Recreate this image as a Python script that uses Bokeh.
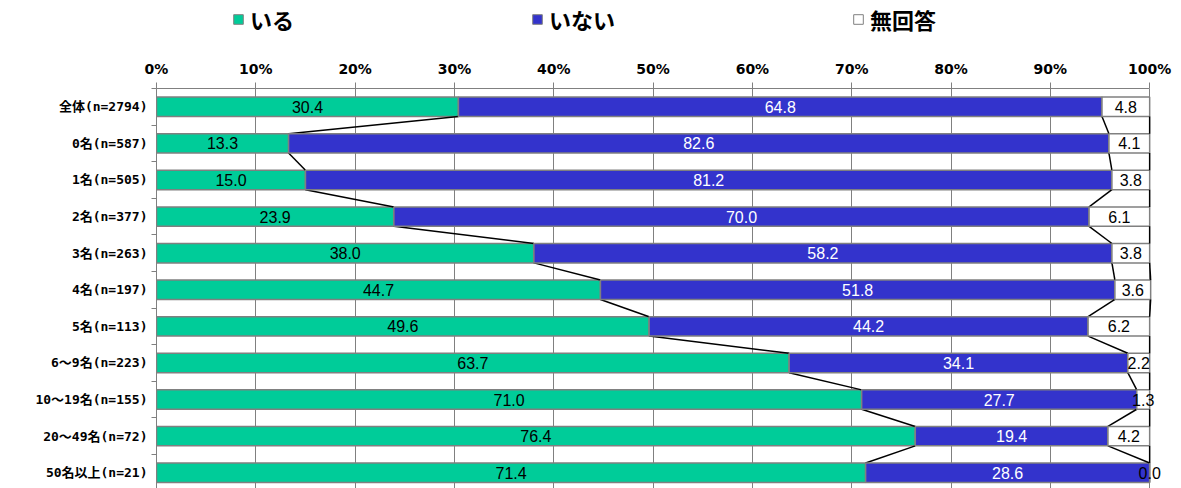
from bokeh.plotting import figure
from bokeh.layouts import column
from bokeh.models import (Range1d, FixedTicker, Legend, LegendItem, ColumnDataSource)
from bokeh.core.properties import value
from bokeh.embed import file_html
from bokeh.resources import INLINE

categories = ["全体(n=2794)", "0名(n=587)", "1名(n=505)", "2名(n=377)",
              "3名(n=263)", "4名(n=197)", "5名(n=113)", "6～9名(n=223)",
              "10～19名(n=155)", "20～49名(n=72)", "50名以上(n=21)"]
iru = [30.4, 13.3, 15.0, 23.9, 38.0, 44.7, 49.6, 63.7, 71.0, 76.4, 71.4]
inai = [64.8, 82.6, 81.2, 70.0, 58.2, 51.8, 44.2, 34.1, 27.7, 19.4, 28.6]
mukaito = [4.8, 4.1, 3.8, 6.1, 3.8, 3.6, 6.2, 2.2, 1.3, 4.2, 0.0]
series_names = ["いる", "いない", "無回答"]
x_ticks = [0, 10, 20, 30, 40, 50, 60, 70, 80, 90, 100]

colors = ["#00CC99", "#3333CC", "#FFFFFF"]
text_colors = ["#000000", "#FFFFFF", "#000000"]
GRAY = "#808080"
BAR_H = 0.53
W = 1173

n = len(categories)
ys = list(range(n))

# ---------- legend strip ----------
lf = figure(width=W, height=44, output_backend="svg", toolbar_location=None,
            x_range=Range1d(0, 1), y_range=Range1d(0, 1), min_border=0)
lf.axis.visible = False
lf.grid.visible = False
lf.outline_line_color = None
dummy = []
for k in range(3):
    # a single off-screen bar, only used for the legend swatch
    dummy.append(lf.hbar(y=[10], left=[10], right=[11], height=0.5,
                         fill_color=colors[k], line_color=GRAY, line_width=1))
lg = Legend(items=[LegendItem(label=series_names[k], renderers=[dummy[k]]) for k in range(3)],
            location=(76, 9), orientation="horizontal", spacing=237,
            glyph_width=12, glyph_height=12, label_standoff=6,
            padding=0, margin=0, border_line_color=None, background_fill_alpha=0,
            label_text_font="Noto Sans CJK JP", label_text_font_style="bold",
            label_text_font_size="22px", label_text_color="black")
lf.add_layout(lg, "center")

# ---------- main chart ----------
p = figure(width=W, height=444, output_backend="svg", toolbar_location=None,
           x_axis_location="above",
           x_range=Range1d(0, 102.4), y_range=Range1d(10.43, -0.5),
           min_border_left=156, min_border_right=0, min_border_top=44,
           min_border_bottom=0)
p.outline_line_color = None

p.xgrid.ticker = FixedTicker(ticks=x_ticks)
p.xgrid.grid_line_color = GRAY
p.xgrid.grid_line_width = 1
p.ygrid.grid_line_color = None

series = [iru, inai, mukaito]
left = [0.0] * n
for k, vals in enumerate(series):
    right = [l + v for l, v in zip(left, vals)]
    src = ColumnDataSource(dict(y=ys, left=left, right=right))
    p.hbar(y="y", left="left", right="right", height=BAR_H, source=src,
           fill_color=colors[k], line_color=GRAY, line_width=1.5)
    centers = [(l + rr) / 2 for l, rr in zip(left, right)]
    labels = [f"{v:.1f}" for v in vals]
    p.text(x=centers, y=ys, text=labels, text_align="center", text_baseline="middle",
           text_color=text_colors[k], text_font=value("Liberation Sans"),
           text_font_size="16px")
    # series lines connecting the end of each segment to the next bar
    x0 = right[:-1]
    x1 = right[1:]
    y0 = [y + BAR_H / 2 for y in ys[:-1]]
    y1 = [y + 1 - BAR_H / 2 for y in ys[:-1]]
    p.segment(x0=x0, y0=y0, x1=x1, y1=y1, line_color="black", line_width=1.5)
    left = right

# top x axis
xa = p.xaxis[0]
xa.ticker = FixedTicker(ticks=x_ticks)
xa.bounds = (0, 100)
xa.major_label_overrides = {t: f"{t}%" for t in x_ticks}
xa.major_label_text_font = "DejaVu Sans"
xa.major_label_text_font_style = "bold"
xa.major_label_text_font_size = "14px"
xa.major_label_text_color = "black"
xa.axis_line_color = GRAY
xa.major_tick_line_color = GRAY
xa.major_tick_out = 6
xa.major_tick_in = 0
xa.minor_tick_line_color = None
xa.major_label_standoff = 6

# left y axis: labels at rows, tick marks between rows
ya = p.yaxis[0]
ya.ticker = FixedTicker(ticks=ys, minor_ticks=[y - 0.5 for y in ys] + [n - 0.5])
ya.major_label_overrides = {y: c for y, c in zip(ys, categories)}
ya.major_label_text_font = "DejaVu Sans Mono, Noto Sans CJK JP"
ya.major_label_text_font_style = "bold"
ya.major_label_text_font_size = "13px"
ya.major_label_text_color = "black"
ya.axis_line_color = GRAY
ya.major_tick_line_color = None
ya.major_tick_out = 0
ya.major_tick_in = 0
ya.minor_tick_line_color = GRAY
ya.minor_tick_out = 5
ya.minor_tick_in = 0
ya.major_label_standoff = 4

layout = column(lf, p, spacing=0)
open("out.html", "w").write(file_html(layout, INLINE))
